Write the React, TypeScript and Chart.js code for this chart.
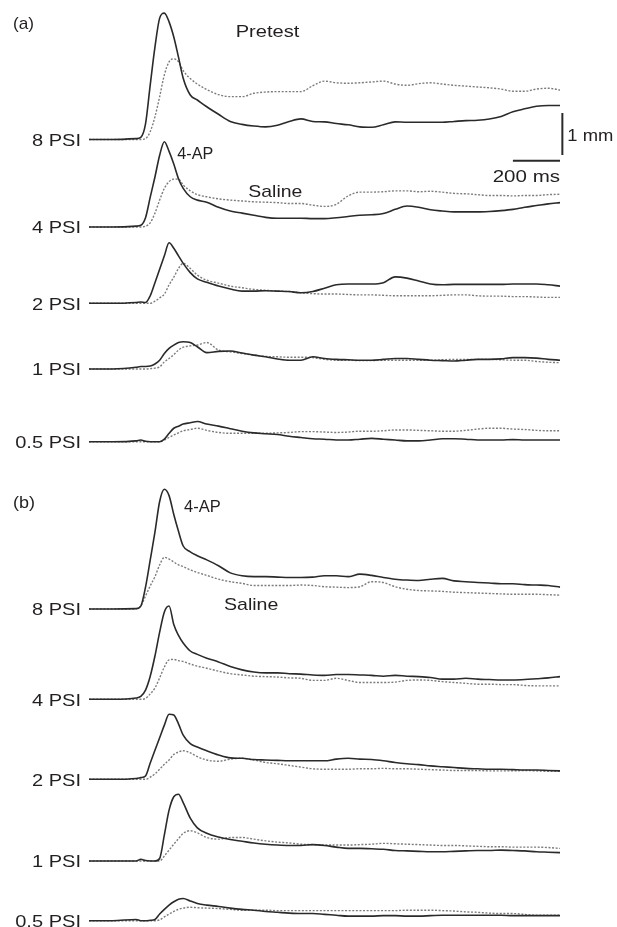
import { useEffect, useRef } from "react";
import { Chart, registerables } from "chart.js";

Chart.register(...registerables);

// ---- data -------------------------------------------------------------
// Sample times (ms after trace start) shared by every trace.
const TIME_MS = [
  0, 100, 200, 220, 240, 260, 280, 300, 320, 340, 360, 380, 400, 430, 460,
  500, 550, 600, 650, 700, 750, 800, 850, 900, 950, 1000, 1050, 1100, 1150,
  1200, 1250, 1300, 1350, 1400, 1450, 1500, 1550, 1600, 1650, 1700, 1750,
  1800, 1850, 1900, 1950, 2000,
];

const PRESSURE_LABELS = ["8 PSI", "4 PSI", "2 PSI", "1 PSI", "0.5 PSI"];

// Displacement (mm above resting level) — panel (a), pretest
const A_8_4AP = [0, 0, 0.02, 0.05, 0.37, 1.3, 2.2, 2.89, 3.01, 2.8, 2.44, 1.96, 1.46, 1.06, 0.94, 0.78, 0.6, 0.43, 0.36, 0.32, 0.3, 0.34, 0.43, 0.49, 0.43, 0.42, 0.38, 0.35, 0.3, 0.29, 0.35, 0.42, 0.41, 0.41, 0.41, 0.41, 0.43, 0.45, 0.46, 0.49, 0.55, 0.66, 0.73, 0.79, 0.81, 0.81];
const A_8_SAL = [0, 0, 0, 0, 0.02, 0.19, 0.54, 1.02, 1.54, 1.85, 1.92, 1.85, 1.64, 1.45, 1.32, 1.19, 1.07, 1.02, 1.02, 1.1, 1.13, 1.14, 1.14, 1.14, 1.28, 1.39, 1.35, 1.34, 1.35, 1.37, 1.39, 1.32, 1.29, 1.33, 1.35, 1.32, 1.29, 1.27, 1.25, 1.23, 1.2, 1.15, 1.15, 1.2, 1.22, 1.18];
const A_4_4AP = [0, 0, 0.02, 0.04, 0.22, 0.71, 1.19, 1.71, 2.03, 1.8, 1.5, 1.15, 0.92, 0.72, 0.64, 0.59, 0.47, 0.38, 0.33, 0.28, 0.23, 0.21, 0.21, 0.21, 0.2, 0.2, 0.22, 0.25, 0.28, 0.29, 0.32, 0.42, 0.5, 0.47, 0.41, 0.38, 0.36, 0.36, 0.36, 0.37, 0.39, 0.42, 0.47, 0.51, 0.55, 0.58];
const A_4_SAL = [0, 0, 0, 0, 0.02, 0.1, 0.33, 0.64, 0.92, 1.08, 1.14, 1.14, 1.0, 0.86, 0.77, 0.72, 0.67, 0.64, 0.62, 0.6, 0.59, 0.58, 0.56, 0.56, 0.52, 0.49, 0.54, 0.74, 0.83, 0.83, 0.84, 0.86, 0.86, 0.84, 0.85, 0.83, 0.8, 0.79, 0.77, 0.75, 0.75, 0.74, 0.75, 0.75, 0.77, 0.78];
const A_2_4AP = [0, 0, 0.02, 0.03, 0.02, 0.18, 0.49, 0.81, 1.13, 1.44, 1.31, 1.13, 0.95, 0.73, 0.58, 0.5, 0.41, 0.34, 0.29, 0.29, 0.3, 0.29, 0.28, 0.25, 0.28, 0.36, 0.44, 0.46, 0.46, 0.46, 0.49, 0.63, 0.6, 0.53, 0.46, 0.44, 0.45, 0.45, 0.45, 0.45, 0.45, 0.46, 0.46, 0.46, 0.44, 0.41];
const A_2_SAL = [0, 0, 0, 0, 0, 0, 0.05, 0.13, 0.22, 0.44, 0.62, 0.83, 0.95, 0.83, 0.67, 0.55, 0.48, 0.41, 0.37, 0.33, 0.31, 0.29, 0.28, 0.25, 0.23, 0.22, 0.22, 0.21, 0.2, 0.2, 0.19, 0.18, 0.18, 0.18, 0.18, 0.19, 0.2, 0.2, 0.18, 0.17, 0.17, 0.16, 0.16, 0.15, 0.14, 0.14];
const A_1_4AP = [0, 0, 0.04, 0.06, 0.06, 0.07, 0.12, 0.21, 0.37, 0.49, 0.57, 0.63, 0.65, 0.63, 0.53, 0.39, 0.42, 0.43, 0.38, 0.33, 0.29, 0.24, 0.21, 0.21, 0.29, 0.25, 0.23, 0.22, 0.21, 0.21, 0.23, 0.25, 0.25, 0.23, 0.21, 0.2, 0.19, 0.21, 0.23, 0.23, 0.24, 0.27, 0.27, 0.26, 0.23, 0.21];
const A_1_SAL = [0, 0, 0, 0, 0, 0.01, 0.02, 0.05, 0.17, 0.25, 0.34, 0.45, 0.52, 0.55, 0.57, 0.63, 0.45, 0.41, 0.37, 0.33, 0.3, 0.29, 0.28, 0.28, 0.27, 0.23, 0.21, 0.21, 0.2, 0.2, 0.21, 0.21, 0.21, 0.21, 0.21, 0.22, 0.23, 0.23, 0.23, 0.23, 0.22, 0.21, 0.21, 0.18, 0.16, 0.15];
const A_05_4AP = [0, 0, 0.02, 0.04, 0.01, 0, 0, 0, 0.06, 0.2, 0.32, 0.37, 0.42, 0.45, 0.48, 0.42, 0.37, 0.31, 0.25, 0.21, 0.19, 0.17, 0.13, 0.1, 0.07, 0.06, 0.04, 0.04, 0.06, 0.08, 0.06, 0.04, 0.02, 0.02, 0.04, 0.07, 0.07, 0.06, 0.04, 0.04, 0.04, 0.05, 0.04, 0.04, 0.04, 0.04];
const A_05_SAL = [0, 0, 0, 0, 0, 0, 0, 0, 0.04, 0.1, 0.16, 0.21, 0.26, 0.29, 0.32, 0.27, 0.22, 0.2, 0.2, 0.2, 0.2, 0.21, 0.22, 0.24, 0.24, 0.23, 0.22, 0.23, 0.25, 0.25, 0.26, 0.28, 0.28, 0.27, 0.26, 0.25, 0.25, 0.27, 0.3, 0.32, 0.32, 0.3, 0.29, 0.27, 0.26, 0.26];

// Displacement (mm above resting level) — panel (b)
const B_8_4AP = [0, 0, 0.01, 0.07, 0.52, 1.17, 1.83, 2.56, 2.85, 2.7, 2.25, 1.85, 1.5, 1.36, 1.27, 1.17, 1.03, 0.86, 0.79, 0.77, 0.77, 0.76, 0.75, 0.75, 0.76, 0.79, 0.79, 0.77, 0.83, 0.8, 0.75, 0.71, 0.69, 0.68, 0.71, 0.73, 0.67, 0.65, 0.63, 0.62, 0.6, 0.6, 0.58, 0.57, 0.56, 0.52];
const B_8_SAL = [0, 0, 0, 0.07, 0.31, 0.55, 0.77, 1.05, 1.23, 1.19, 1.12, 1.05, 1.01, 0.93, 0.87, 0.8, 0.71, 0.65, 0.61, 0.56, 0.56, 0.56, 0.56, 0.57, 0.56, 0.53, 0.52, 0.51, 0.53, 0.65, 0.63, 0.53, 0.47, 0.44, 0.43, 0.42, 0.4, 0.39, 0.38, 0.37, 0.36, 0.35, 0.35, 0.35, 0.34, 0.33];
const B_4_4AP = [0, 0, 0.03, 0.07, 0.22, 0.55, 1.03, 1.6, 2.08, 2.22, 1.78, 1.52, 1.34, 1.15, 1.07, 0.98, 0.89, 0.78, 0.7, 0.65, 0.63, 0.63, 0.61, 0.6, 0.58, 0.57, 0.59, 0.59, 0.58, 0.57, 0.55, 0.57, 0.55, 0.54, 0.52, 0.48, 0.48, 0.5, 0.48, 0.47, 0.46, 0.46, 0.47, 0.49, 0.51, 0.54];
const B_4_SAL = [0, 0, 0, 0, 0.02, 0.13, 0.27, 0.51, 0.77, 0.94, 0.95, 0.92, 0.9, 0.84, 0.79, 0.74, 0.67, 0.61, 0.58, 0.55, 0.54, 0.53, 0.51, 0.5, 0.45, 0.45, 0.5, 0.45, 0.4, 0.4, 0.4, 0.41, 0.45, 0.46, 0.45, 0.42, 0.4, 0.38, 0.36, 0.36, 0.35, 0.35, 0.33, 0.32, 0.32, 0.32];
const B_2_4AP = [0, 0, 0.02, 0.04, 0.08, 0.39, 0.69, 0.99, 1.29, 1.55, 1.53, 1.32, 1.05, 0.85, 0.77, 0.68, 0.58, 0.51, 0.5, 0.47, 0.46, 0.45, 0.44, 0.44, 0.44, 0.44, 0.48, 0.5, 0.48, 0.47, 0.44, 0.4, 0.37, 0.35, 0.32, 0.3, 0.28, 0.26, 0.25, 0.24, 0.24, 0.23, 0.22, 0.22, 0.21, 0.2];
const B_2_SAL = [0, 0, 0, 0, 0, 0.05, 0.13, 0.24, 0.36, 0.46, 0.59, 0.65, 0.68, 0.63, 0.54, 0.46, 0.43, 0.48, 0.5, 0.46, 0.4, 0.37, 0.33, 0.29, 0.25, 0.24, 0.24, 0.24, 0.25, 0.25, 0.26, 0.25, 0.25, 0.24, 0.23, 0.22, 0.21, 0.21, 0.21, 0.2, 0.2, 0.2, 0.21, 0.2, 0.19, 0.19];
const B_1_4AP = [0, 0, 0, 0.04, 0.01, 0, 0, 0.06, 0.62, 1.21, 1.53, 1.59, 1.39, 1.02, 0.79, 0.66, 0.57, 0.51, 0.47, 0.43, 0.4, 0.38, 0.37, 0.37, 0.39, 0.37, 0.33, 0.3, 0.3, 0.29, 0.28, 0.25, 0.24, 0.23, 0.22, 0.22, 0.23, 0.24, 0.25, 0.25, 0.26, 0.25, 0.24, 0.22, 0.21, 0.2];
const B_1_SAL = [0, 0, 0, 0, 0, 0, 0, 0, 0.12, 0.26, 0.4, 0.53, 0.66, 0.72, 0.67, 0.56, 0.52, 0.56, 0.56, 0.52, 0.48, 0.45, 0.43, 0.4, 0.39, 0.38, 0.38, 0.38, 0.39, 0.4, 0.42, 0.41, 0.4, 0.39, 0.38, 0.37, 0.37, 0.36, 0.35, 0.34, 0.34, 0.33, 0.33, 0.33, 0.32, 0.3];
const B_05_4AP = [0, 0, 0.03, 0, 0, 0.01, 0.03, 0.16, 0.27, 0.37, 0.45, 0.51, 0.53, 0.47, 0.41, 0.37, 0.34, 0.3, 0.27, 0.25, 0.22, 0.2, 0.18, 0.17, 0.17, 0.15, 0.13, 0.11, 0.11, 0.11, 0.12, 0.12, 0.11, 0.11, 0.12, 0.13, 0.13, 0.13, 0.13, 0.13, 0.13, 0.12, 0.12, 0.12, 0.12, 0.12];
const B_05_SAL = [0, 0, 0, 0, 0, 0, 0, 0.02, 0.09, 0.16, 0.22, 0.27, 0.3, 0.32, 0.31, 0.3, 0.29, 0.27, 0.25, 0.25, 0.25, 0.24, 0.24, 0.24, 0.24, 0.24, 0.24, 0.24, 0.24, 0.24, 0.24, 0.24, 0.25, 0.25, 0.25, 0.24, 0.23, 0.21, 0.2, 0.18, 0.17, 0.17, 0.15, 0.13, 0.13, 0.13];

const PANEL_A_4AP = [A_8_4AP, A_4_4AP, A_2_4AP, A_1_4AP, A_05_4AP];
const PANEL_A_SAL = [A_8_SAL, A_4_SAL, A_2_SAL, A_1_SAL, A_05_SAL];
const PANEL_B_4AP = [B_8_4AP, B_4_4AP, B_2_4AP, B_1_4AP, B_05_4AP];
const PANEL_B_SAL = [B_8_SAL, B_4_SAL, B_2_SAL, B_1_SAL, B_05_SAL];

// Calibration bars
const SCALE_BAR_MS = 200;
const SCALE_BAR_MM = 1;

// ---- layout -----------------------------------------------------------
const W = 617;
const H = 927;
const PX_PER_MS = 0.2355;
const PX_PER_MM = 42;
const TRACE_LEFT_PX = 89;
const ROW_BASELINE_PX_A = [139.5, 227, 303.3, 369, 441.7];
const ROW_BASELINE_PX_B = [609, 699.3, 779.3, 861, 920.7];
const LABEL_RIGHT_PX = 81;
const LABEL_STRETCH = 1.18;
const TRACE_END_MS = 2000;
const H_BAR_Y_PX = 160.7;
const V_BAR_X_MS = 2010;
const V_BAR_BOTTOM_PX = 155;

const FONT = '17px "Liberation Sans", Arial, Helvetica, sans-serif';
const TEXT_COLOR = "#231f20";
const SOLID_COLOR = "#2a2a2a";
const DASH_COLOR = "#7c7c7c";

const ANNOTATIONS = [
  { text: "(a)", x: 13, y: 29, w: 21 },
  { text: "(b)", x: 13, y: 508, w: 22 },
  { text: "Pretest", x: 235.7, y: 37.3, w: 63.6 },
  { text: "4-AP", x: 177.3, y: 159.3, w: 36 },
  { text: "Saline", x: 248.3, y: 196.7, w: 54 },
  { text: "4-AP", x: 184, y: 511.7, w: 36.7 },
  { text: "Saline", x: 224, y: 610, w: 54.3 },
  { text: "1 mm", x: 567.3, y: 140.7, w: 46 },
  { text: "200 ms", x: 492.7, y: 181.7, w: 67.3 },
];

const pxToMm = (py: number) => -py / PX_PER_MM;

function traceDataset(values: number[], baselinePx: number, dashed: boolean) {
  const base = pxToMm(baselinePx);
  return {
    data: TIME_MS.map((t, i) => ({ x: t, y: base + values[i] })),
    borderColor: dashed ? DASH_COLOR : SOLID_COLOR,
    borderWidth: dashed ? 1.4 : 1.6,
    borderDash: dashed ? [2, 1.6] : [],
    pointRadius: 0,
    fill: false,
    cubicInterpolationMode: "monotone" as const,
    order: dashed ? 2 : 1,
    clip: false as const,
  };
}

function buildDatasets() {
  const sets: any[] = [];
  const panels = [
    { solid: PANEL_A_4AP, dash: PANEL_A_SAL, rows: ROW_BASELINE_PX_A },
    { solid: PANEL_B_4AP, dash: PANEL_B_SAL, rows: ROW_BASELINE_PX_B },
  ];
  panels.forEach((p) => {
    p.rows.forEach((rowPx, r) => {
      sets.push(traceDataset(p.solid[r], rowPx, false));
      sets.push(traceDataset(p.dash[r], rowPx, true));
    });
  });
  const barStyle = {
    borderColor: SOLID_COLOR,
    borderWidth: 2,
    pointRadius: 0,
    fill: false,
    tension: 0,
    order: 0,
    clip: false as const,
  };
  sets.push({
    ...barStyle,
    data: [
      { x: TRACE_END_MS - SCALE_BAR_MS, y: pxToMm(H_BAR_Y_PX) },
      { x: TRACE_END_MS, y: pxToMm(H_BAR_Y_PX) },
    ],
  });
  sets.push({
    ...barStyle,
    data: [
      { x: V_BAR_X_MS, y: pxToMm(V_BAR_BOTTOM_PX) },
      { x: V_BAR_X_MS, y: pxToMm(V_BAR_BOTTOM_PX) + SCALE_BAR_MM },
    ],
  });
  return sets;
}

const textPlugin = {
  id: "figureText",
  afterDatasetsDraw(chart: Chart) {
    const ctx = chart.ctx;
    ctx.save();
    ctx.font = FONT;
    ctx.fillStyle = TEXT_COLOR;
    ctx.textBaseline = "alphabetic";
    // pressure labels at the start of each trace
    [ROW_BASELINE_PX_A, ROW_BASELINE_PX_B].forEach((rows) => {
      rows.forEach((rowPx, r) => {
        ctx.save();
        ctx.translate(LABEL_RIGHT_PX, rowPx + 6.2);
        ctx.scale(LABEL_STRETCH, 1);
        ctx.textAlign = "right";
        ctx.fillText(PRESSURE_LABELS[r], 0, 0);
        ctx.restore();
      });
    });
    ANNOTATIONS.forEach((a) => {
      const natural = ctx.measureText(a.text).width;
      ctx.save();
      ctx.translate(a.x, a.y);
      ctx.scale(a.w / natural, 1);
      ctx.textAlign = "left";
      ctx.fillText(a.text, 0, 0);
      ctx.restore();
    });
    ctx.restore();
  },
};

export default function App() {
  const ref = useRef<HTMLCanvasElement>(null);

  useEffect(() => {
    if (!ref.current) return;
    const chart = new Chart(ref.current, {
      type: "line",
      data: { datasets: buildDatasets() },
      options: {
        animation: false,
        responsive: false,
        devicePixelRatio: 1,
        layout: { padding: 0 },
        events: [],
        scales: {
          x: {
            type: "linear",
            display: false,
            min: -TRACE_LEFT_PX / PX_PER_MS,
            max: (W - TRACE_LEFT_PX) / PX_PER_MS,
          },
          y: {
            type: "linear",
            display: false,
            min: -H / PX_PER_MM,
            max: 0,
          },
        },
        plugins: {
          legend: { display: false },
          tooltip: { enabled: false },
        },
      },
      plugins: [textPlugin],
    });
    return () => chart.destroy();
  }, []);

  return (
    <div
      style={{
        position: "fixed",
        left: 0,
        top: 0,
        width: W,
        height: H,
        background: "#ffffff",
      }}
    >
      <canvas
        ref={ref}
        width={W}
        height={H}
        style={{ display: "block", width: W, height: H }}
      />
    </div>
  );
}
